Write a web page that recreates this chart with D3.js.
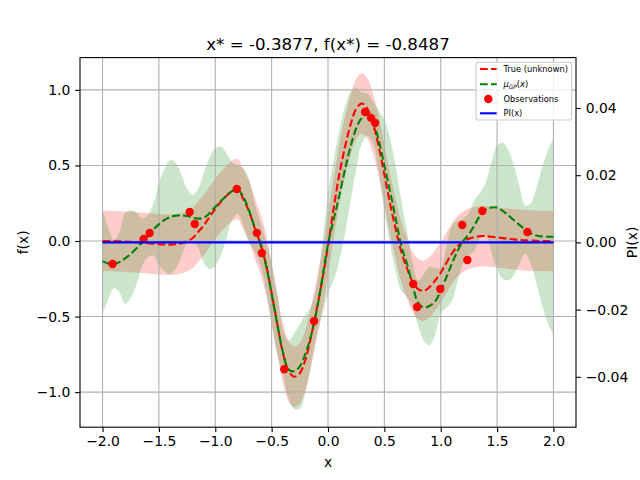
<!DOCTYPE html>
<html><head><meta charset="utf-8">
<script src="https://cdn.jsdelivr.net/npm/d3@7"></script>
<style>body{margin:0;background:#fff} svg{display:block} text{font-family:"DejaVu Sans",sans-serif}</style>
</head><body><svg id="c" width="640" height="480"></svg>
<script>
// ---- data ----
const xGrid=[-2.00,-1.95,-1.90,-1.85,-1.80,-1.75,-1.70,-1.65,-1.60,-1.55,-1.50,-1.45,-1.40,-1.35,-1.30,-1.25,-1.20,-1.15,-1.10,-1.05,
-1.00,-0.95,-0.90,-0.85,-0.80,-0.75,-0.70,-0.65,-0.60,-0.55,-0.50,-0.45,-0.40,-0.35,-0.30,-0.25,-0.20,-0.15,-0.10,-0.05,
0.00,0.05,0.10,0.15,0.20,0.25,0.30,0.35,0.40,0.45,0.50,0.55,0.60,0.65,0.70,0.75,0.80,0.85,0.90,0.95,
1.00,1.05,1.10,1.15,1.20,1.25,1.30,1.35,1.40,1.45,1.50,1.55,1.60,1.65,1.70,1.75,1.80,1.85,1.90,1.95,2.00];
const trueVals=[0.000,0.000,0.000,-0.002,-0.004,-0.006,-0.009,-0.012,-0.015,-0.018,-0.021,-0.023,-0.024,-0.022,-0.015,-0.002,0.020,0.062,0.105,0.160,
0.212,0.260,0.300,0.332,0.343,0.275,0.195,0.085,-0.015,-0.155,-0.346,-0.550,-0.740,-0.860,-0.898,-0.875,-0.785,-0.630,-0.450,-0.255,
-0.030,0.215,0.440,0.620,0.770,0.875,0.910,0.875,0.775,0.625,0.440,0.250,0.080,-0.070,-0.180,-0.270,-0.318,-0.330,-0.305,-0.262,
-0.210,-0.145,-0.082,-0.035,-0.005,0.015,0.027,0.032,0.032,0.028,0.024,0.019,0.015,0.011,0.008,0.005,0.003,0.001,0.000,0.000,0.000];
const gpMean=[-0.135,-0.148,-0.152,-0.140,-0.115,-0.085,-0.050,-0.010,0.030,0.075,0.110,0.140,0.158,0.168,0.170,0.165,0.155,0.148,0.155,0.185,
0.225,0.265,0.300,0.330,0.340,0.290,0.200,0.090,-0.020,-0.160,-0.350,-0.550,-0.735,-0.850,-0.862,-0.830,-0.745,-0.625,-0.460,-0.245,
-0.020,0.140,0.300,0.470,0.625,0.745,0.815,0.835,0.785,0.665,0.500,0.330,0.150,-0.030,-0.150,-0.290,-0.410,-0.440,-0.430,-0.400,
-0.330,-0.240,-0.148,-0.065,0.000,0.045,0.105,0.170,0.210,0.222,0.222,0.200,0.170,0.137,0.105,0.077,0.050,0.036,0.030,0.028,0.028];
const gpHalfWidth=[0.34,0.24,0.16,0.20,0.30,0.29,0.24,0.16,0.14,0.17,0.27,0.34,0.38,0.35,0.27,0.18,0.15,0.20,0.30,0.37,
0.39,0.36,0.28,0.19,0.16,0.19,0.21,0.16,0.14,0.16,0.20,0.20,0.15,0.19,0.25,0.28,0.26,0.19,0.16,0.24,
0.33,0.40,0.43,0.42,0.36,0.27,0.17,0.14,0.14,0.20,0.30,0.35,0.35,0.30,0.22,0.15,0.15,0.22,0.26,0.22,
0.15,0.20,0.25,0.20,0.15,0.14,0.17,0.15,0.18,0.30,0.41,0.45,0.43,0.36,0.25,0.16,0.20,0.32,0.46,0.57,0.65];
const noiseHalfWidth=0.2;
const obsX=[-1.911,-1.636,-1.582,-1.227,-1.182,-0.809,-0.631,-0.587,-0.3877,-0.124,0.329,0.382,0.418,0.756,0.791,0.996,1.191,1.236,1.369,1.769];
const obsY=[-0.152,0.013,0.053,0.192,0.113,0.344,0.053,-0.079,-0.8487,-0.530,0.854,0.815,0.781,-0.285,-0.437,-0.318,0.106,-0.126,0.199,0.060];
const piVals=xGrid.map(()=>0);
const xTicks=[-2.0,-1.5,-1.0,-0.5,0.0,0.5,1.0,1.5,2.0];
const yTicks=[-1.0,-0.5,0.0,0.5,1.0];
const y2Ticks=[-0.04,-0.02,0.00,0.02,0.04];
const titleText="x* = -0.3877, f(x*) = -0.8487";

// ---- layout ----
const L=80,R=576,T=57.6,B=427.2;
const svg=d3.select("#c");
const x=d3.scaleLinear().domain([-2.2,2.2]).range([L,R]);
const y=d3.scaleLinear().domain([-1.2323,1.2138]).range([B,T]);
const y2=d3.scaleLinear().domain([-0.055,0.055]).range([B,T]);
const pts=xGrid.map((v,i)=>({x:v,t:trueVals[i],m:gpMean[i],h:gpHalfWidth[i],p:piVals[i]}));
const curve=d3.curveCatmullRom.alpha(0.5);

// bands
svg.append("path").datum(pts).attr("fill","#ff0000").attr("fill-opacity",0.2)
  .attr("d",d3.area().curve(curve).x(d=>x(d.x)).y0(d=>y(d.t-noiseHalfWidth)).y1(d=>y(d.t+noiseHalfWidth)));
svg.append("path").datum(pts).attr("fill","#008000").attr("fill-opacity",0.2)
  .attr("d",d3.area().curve(curve).x(d=>x(d.x)).y0(d=>y(d.m-d.h)).y1(d=>y(d.m+d.h)));

// grid
const g=svg.append("g").attr("stroke","#b0b0b0").attr("stroke-width",1.1);
xTicks.forEach(v=>g.append("line").attr("x1",x(v)).attr("x2",x(v)).attr("y1",T).attr("y2",B));
yTicks.forEach(v=>g.append("line").attr("x1",L).attr("x2",R).attr("y1",y(v)).attr("y2",y(v)));

// lines
svg.append("path").datum(pts).attr("fill","none").attr("stroke","#ff0000").attr("stroke-width",2.08)
  .attr("stroke-dasharray","7.7,3.3").attr("d",d3.line().curve(curve).x(d=>x(d.x)).y(d=>y(d.t)));
svg.append("path").datum(pts).attr("fill","none").attr("stroke","#008000").attr("stroke-width",2.08)
  .attr("stroke-dasharray","7.7,3.3").attr("d",d3.line().curve(curve).x(d=>x(d.x)).y(d=>y(d.m)));
svg.append("g").selectAll("circle").data(obsX).join("circle")
  .attr("cx",(d)=>x(d)).attr("cy",(d,i)=>y(obsY[i])).attr("r",4.2).attr("fill","#ff0000");

// PI line on twin axis
svg.append("path").datum(pts).attr("fill","none").attr("stroke","#0000ff").attr("stroke-width",2.08)
  .attr("d",d3.line().x(d=>x(d.x)).y(d=>y2(d.p)));

// axes
function styleAxis(sel){sel.select(".domain").remove();sel.selectAll(".tick line").attr("stroke","#000").attr("stroke-width",1.1);
  sel.selectAll(".tick text").attr("fill","#000").style("font-size","13.9px").style("font-family","DejaVu Sans");}
svg.append("g").attr("transform",`translate(0,${B})`).call(d3.axisBottom(x).tickValues(xTicks).tickFormat(d3.format(".1f")).tickSize(4.86).tickPadding(4.2)).call(styleAxis);
svg.append("g").attr("transform",`translate(${L},0)`).call(d3.axisLeft(y).tickValues(yTicks).tickFormat(d3.format(".1f")).tickSize(4.86).tickPadding(4.86)).call(styleAxis);
svg.append("g").attr("transform",`translate(${R},0)`).call(d3.axisRight(y2).tickValues(y2Ticks).tickFormat(d3.format(".2f")).tickSize(4.86).tickPadding(4.86)).call(styleAxis);
svg.append("rect").attr("x",L).attr("y",T).attr("width",R-L).attr("height",B-T).attr("fill","none").attr("stroke","#000").attr("stroke-width",1.1);

// labels
svg.append("text").attr("x",(L+R)/2).attr("y",49.5).attr("text-anchor","middle").style("font-size","16.67px").text(titleText);
svg.append("text").attr("x",(L+R)/2).attr("y",467).attr("text-anchor","middle").style("font-size","13.9px").text("x");
svg.append("text").attr("transform",`translate(28,${(T+B)/2}) rotate(-90)`).attr("text-anchor","middle").style("font-size","13.9px").text("f(x)");
svg.append("text").attr("transform",`translate(636.5,${(T+B)/2}) rotate(-90)`).attr("text-anchor","middle").style("font-size","13.9px").text("PI(x)");

// legend
const lg=svg.append("g");
lg.append("rect").attr("x",476).attr("y",62.3).attr("width",95.7).attr("height",57.7).attr("rx",2.5)
  .attr("fill","#fff").attr("fill-opacity",0.8).attr("stroke","#cccccc").attr("stroke-width",1.1);
const ly=[69,84.3,99,113.3];
lg.append("line").attr("x1",480).attr("x2",496.7).attr("y1",ly[0]).attr("y2",ly[0]).attr("stroke","#ff0000").attr("stroke-width",2.08).attr("stroke-dasharray","7.7,3.3");
lg.append("line").attr("x1",480).attr("x2",496.7).attr("y1",ly[1]).attr("y2",ly[1]).attr("stroke","#008000").attr("stroke-width",2.08).attr("stroke-dasharray","7.7,3.3");
lg.append("circle").attr("cx",488.3).attr("cy",ly[2]).attr("r",4.2).attr("fill","#ff0000");
lg.append("line").attr("x1",480).attr("x2",496.7).attr("y1",ly[3]).attr("y2",ly[3]).attr("stroke","#0000ff").attr("stroke-width",2.08);
const fs="8.3px";
lg.append("text").attr("x",503.5).attr("y",ly[0]+3).style("font-size",fs).text("True (unknown)");
const t2=lg.append("text").attr("x",503.5).attr("y",ly[1]+3).style("font-size",fs);
t2.append("tspan").style("font-style","italic").text("μ");
t2.append("tspan").attr("dy",1.8).style("font-style","italic").style("font-size","5.8px").text("GP");
t2.append("tspan").attr("dy",-1.8).text("(");
t2.append("tspan").style("font-style","italic").text("x");
t2.append("tspan").text(")");
lg.append("text").attr("x",503.5).attr("y",ly[2]+3).style("font-size",fs).text("Observations");
lg.append("text").attr("x",503.5).attr("y",ly[3]+3).style("font-size",fs).text("PI(x)");
</script></body></html>
